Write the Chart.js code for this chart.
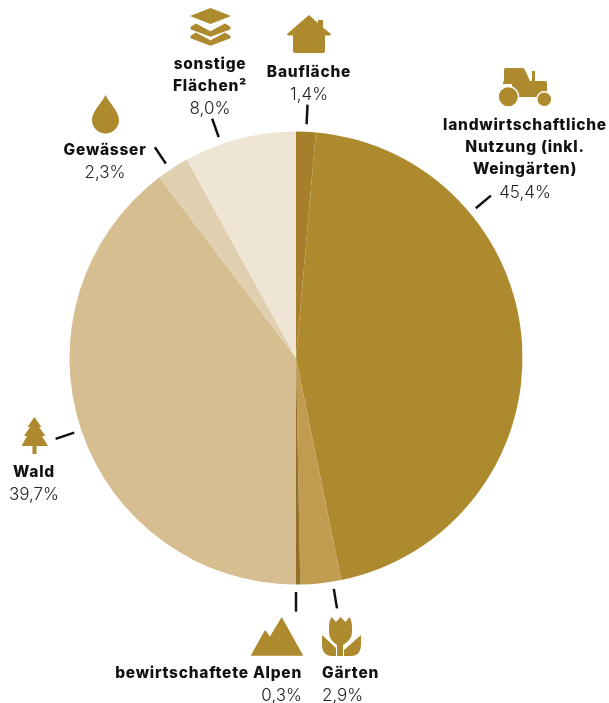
<!DOCTYPE html>
<html lang="de">
<head>
<meta charset="utf-8">
<title>Flächennutzung</title>
<script src="https://cdn.jsdelivr.net/npm/chart.js@4"></script>
<style>
    html, body { margin: 0; padding: 0; background: #fff; }
    #wrap { position: relative; width: 609px; height: 703px; overflow: hidden; }
    #chart { position: absolute; left: 0; top: 0; }
    .label { position: absolute; font-family: "Inter", sans-serif; font-size: 15.5px; line-height: 22.2px; color: #111; white-space: nowrap; }
    .label b { display: block; font-weight: 800; letter-spacing: 0.75px; }
    .label span { display: block; font-weight: 300; font-size: 17px; color: #222; }
    .icon { position: absolute; left: 0; top: 0; }
</style>
</head>
<body>
<div id="wrap">
    <canvas id="chart" width="609" height="703"></canvas>
    <svg class="icon" width="609" height="703" fill="#AE8A2F">
        <!-- Schichten -->
        <path d="M210.500 8 L231 16 L210.500 24 L190 16 Z"/>
        <path d="M196 23.500 L210.500 31.200 L225 23.500 L230 26.500 Q231.500 28.500 230 29.500 L210.500 36.700 L191 29.500 Q189.500 28.500 191 26.500 Z"/>
        <path d="M196 32.500 L210.500 40.200 L225 32.500 L230 35.500 Q231.500 37.500 230 38.500 L210.500 45.700 L191 38.500 Q189.500 37.500 191 35.500 Z"/>
        <!-- Haus -->
        <path d="M309 15 L318 23 V20 H323 V27.500 L331 34 Q331 35.500 329 35.500 H325 V51 Q325 53 323 53 H295 Q293 53 293 51 V35.500 H289 Q287 35.500 287 34 Z"/>
        <!-- Tropfen -->
        <path d="M105.500 95 C109 103 119 111 119 120 A13.500 13.500 0 0 1 92 120 C92 111 102 103 105.500 95 Z"/>
        <!-- Traktor -->
        <path d="M504 70 Q504 68 506 68 H522 Q524 68 525 70 L530 81 H532 V71 H535 V81 H545 Q547 81 547 83 V97 H512 V84 L503 84 V82 L504 81 Z"/>
        <circle cx="508.300" cy="96.700" r="10.200" stroke="#fff" stroke-width="1.400"/>
        <circle cx="544.300" cy="99.300" r="7.500" stroke="#fff" stroke-width="1.400"/>
        <!-- Berge -->
        <path d="M250.700 655.700 L265 630 L270 636.500 L281.700 617 L303.300 655.700 Z"/>
        <!-- Tulpe -->
        <path d="M329 628 Q329 621 331.500 617 L336 622 L340.500 617 L345.500 622 L349.500 617 Q352 621 352 628 V632 Q352 640 343 645 V656 H337 V645 Q329 640 329 632 Z"/>
        <path d="M322 635 L336 648 V656 H332 Q322 656 322 644 Z"/>
        <path d="M361 635 L344 650 V656 H351 Q361 656 361 644 Z"/>
        <!-- Baum -->
        <path d="M34.300 417 L41.500 427 H39 L45.500 436 H42 L48 446 H36.500 V454 H32.500 V446 H21.500 L27 436 H24 L30 427 H27.500 Z"/>
    </svg>
</div>
<script>
const categories = ['Baufläche', 'landwirtschaftliche<br>Nutzung (inkl.<br>Weingärten)', 'Gärten', 'bewirtschaftete Alpen', 'Wald', 'Gewässer', 'sonstige<br>Flächen²'];
const shares = [1.4, 45.4, 2.9, 0.3, 39.7, 2.3, 8.0];
const sliceColors = ['#A67F2A', '#AE8A2F', '#C09C50', '#8F7228', '#D6BE91', '#E1D0AF', '#EEE5D5'];

// Beschriftung: Bezugspunkt x, Grundlinie der ersten Zeile, Ausrichtung
const labelX = [309, 525, 322, 302, 34, 105, 210];
const labelBaseline = [77, 130, 678, 678, 477, 155, 69];
const labelAlign = ['center', 'center', 'left', 'right', 'center', 'center', 'center'];

// Hinweisstriche: Winkel im Uhrzeigersinn ab 12 Uhr
const tickAngles = [2.6, 50.2, 170.7, 180, -108.6, -33.8, -19.3];
const tickInner = 1.033;
const tickOuter = 1.12;

const wrap = document.getElementById('wrap');
categories.forEach((name, i) => {
    const el = document.createElement('div');
    el.className = 'label';
    el.innerHTML = name.split('<br>').map(s => `<b>${s}</b>`).join('') +
        `<span>${shares[i].toFixed(1).replace('.', ',')}%</span>`;
    el.style.top = (labelBaseline[i] - 16) + 'px';
    el.style.textAlign = labelAlign[i];
    if (labelAlign[i] === 'center') {
        el.style.left = labelX[i] + 'px';
        el.style.transform = 'translateX(-50%)';
    } else if (labelAlign[i] === 'left') {
        el.style.left = labelX[i] + 'px';
    } else {
        el.style.right = (609 - labelX[i]) + 'px';
    }
    wrap.appendChild(el);
});

const tickLines = {
    id: 'tickLines',
    afterDatasetsDraw(chart) {
        const arc = chart.getDatasetMeta(0).data[0];
        const ctx = chart.ctx;
        ctx.save();
        ctx.strokeStyle = '#111';
        ctx.lineWidth = 2.5;
        tickAngles.forEach(deg => {
            const a = deg * Math.PI / 180;
            ctx.beginPath();
            ctx.moveTo(arc.x + Math.sin(a) * arc.outerRadius * tickInner, arc.y - Math.cos(a) * arc.outerRadius * tickInner);
            ctx.lineTo(arc.x + Math.sin(a) * arc.outerRadius * tickOuter, arc.y - Math.cos(a) * arc.outerRadius * tickOuter);
            ctx.stroke();
        });
        ctx.restore();
    }
};

new Chart(document.getElementById('chart'), {
    type: 'pie',
    data: {
        labels: categories.map(s => s.replace(/<br>/g, ' ')),
        datasets: [{
            data: shares,
            backgroundColor: sliceColors,
            borderWidth: 0
        }]
    },
    options: {
        responsive: false,
        animation: false,
        layout: { padding: { left: 69.5, right: 86.5, top: 131.5, bottom: 118.5 } },
        plugins: {
            legend: { display: false },
            tooltip: { enabled: false }
        }
    },
    plugins: [tickLines]
});
</script>
</body>
</html>
